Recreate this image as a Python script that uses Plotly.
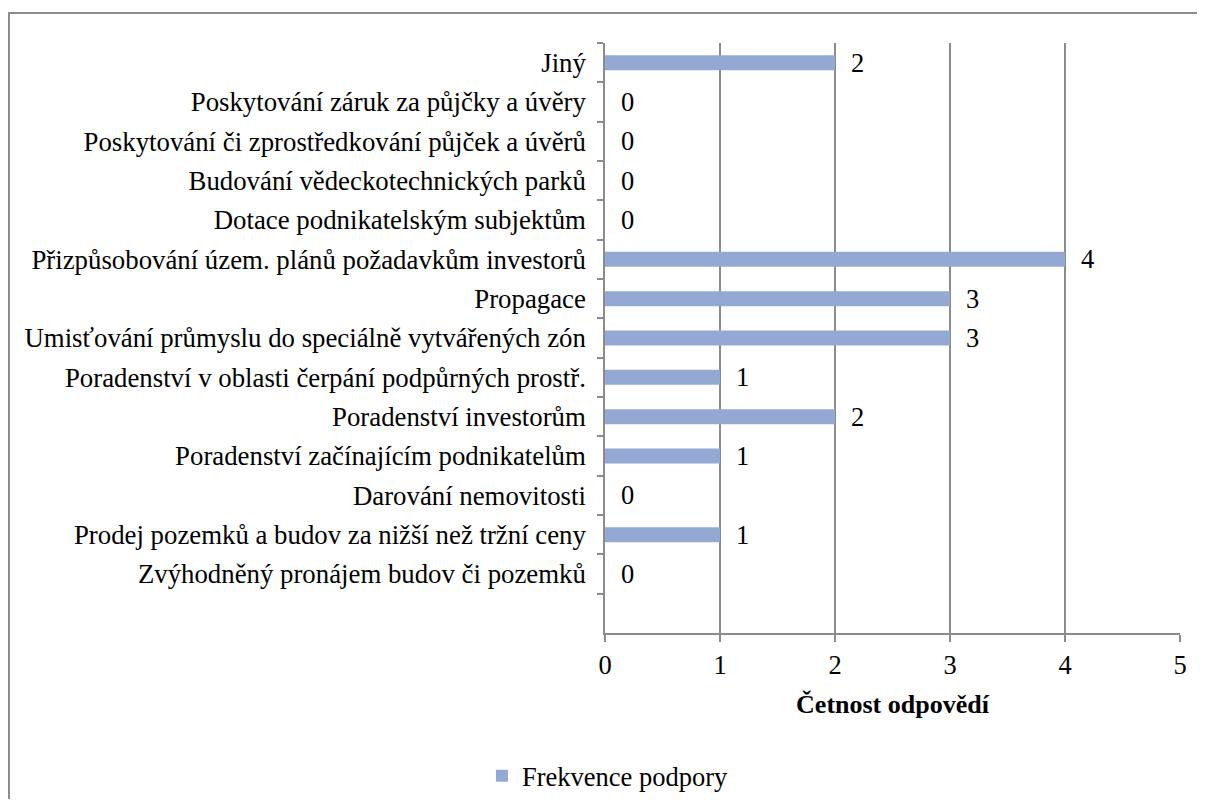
import plotly.graph_objects as go

# Data
CATEGORIES = [
    "Zvýhodněný pronájem budov či pozemků",
    "Prodej pozemků a budov za nižší než tržní ceny",
    "Darování nemovitosti",
    "Poradenství začínajícím podnikatelům",
    "Poradenství investorům",
    "Poradenství v oblasti čerpání podpůrných prostř.",
    "Umisťování průmyslu do speciálně vytvářených zón",
    "Propagace",
    "Přizpůsobování územ. plánů požadavkům investorů",
    "Dotace podnikatelským subjektům",
    "Budování vědeckotechnických parků",
    "Poskytování či zprostředkování půjček a úvěrů",
    "Poskytování záruk za půjčky a úvěry",
    "Jiný",
]
VALUES = [0, 1, 0, 1, 2, 1, 3, 3, 4, 0, 0, 0, 0, 2]
X_TICKS = [0, 1, 2, 3, 4, 5]

SERIES_NAME = "Frekvence podpory"
X_TITLE = "Četnost odpovědí"

BAR_COLOR = "#93a9d4"
GRID_COLOR = "#8c8c8c"
FONT = "Liberation Serif"
FONT_SIZE = 26.5

W, H = 1189, 791
# plot area in figure pixels
L, T = 597, 35
R = W - 1172
B = H - 625
pw = W - L - R
ph = H - T - B

fig = go.Figure()

fig.add_trace(
    go.Bar(
        x=VALUES,
        y=CATEGORIES,
        orientation="h",
        width=0.38,
        marker=dict(color=BAR_COLOR, line=dict(width=0)),
        name=SERIES_NAME,
    )
)

# value labels next to each bar
for cat, val in zip(CATEGORIES, VALUES):
    fig.add_annotation(
        x=val,
        y=cat,
        text=str(val),
        showarrow=False,
        xanchor="left",
        xshift=14,
        font=dict(family=FONT, size=FONT_SIZE, color="black"),
    )

# outer chart border
fig.add_shape(
    type="rect",
    xref="paper",
    yref="paper",
    x0=(1 - L) / pw,
    x1=(W + 20 - L) / pw,
    y0=-(H + 20 - T - ph) / ph,
    y1=1 + (T - 5) / ph,
    line=dict(color="#8c8c8c", width=2),
    fillcolor="rgba(0,0,0,0)",
    layer="below",
)

fig.update_xaxes(
    range=[0, 5],
    tickvals=X_TICKS,
    showgrid=True,
    gridcolor=GRID_COLOR,
    gridwidth=1.5,
    showline=True,
    linecolor=GRID_COLOR,
    linewidth=1.5,
    ticks="outside",
    ticklen=7,
    tickcolor=GRID_COLOR,
    tickwidth=1.5,
    zeroline=False,
    tickfont=dict(family=FONT, size=FONT_SIZE, color="black"),
    title=dict(
        text="<b>" + X_TITLE + "</b>",
        font=dict(family=FONT, size=26, color="black"),
        standoff=16,
    ),
)

fig.update_yaxes(
    type="category",
    categoryorder="array",
    categoryarray=CATEGORIES,
    range=[-1.5, 13.5],
    tickson="boundaries",
    ticks="outside",
    ticklen=6,
    tickcolor=GRID_COLOR,
    tickwidth=1.5,
    showgrid=False,
    showline=True,
    linecolor=GRID_COLOR,
    linewidth=1.5,
    ticklabelstandoff=12,
    tickfont=dict(family=FONT, size=26.8, color="black"),
)

fig.update_layout(
    width=W,
    height=H,
    plot_bgcolor="white",
    paper_bgcolor="white",
    margin=dict(l=L, r=R, t=T, b=B, autoexpand=False),
    showlegend=True,
    legend=dict(
        orientation="h",
        x=-0.214,
        xanchor="left",
        y=-0.2424,
        yanchor="middle",
        font=dict(family=FONT, size=FONT_SIZE, color="black"),
        itemwidth=30,
    ),
    bargap=0.6,
)

fig.write_html("out.html")
